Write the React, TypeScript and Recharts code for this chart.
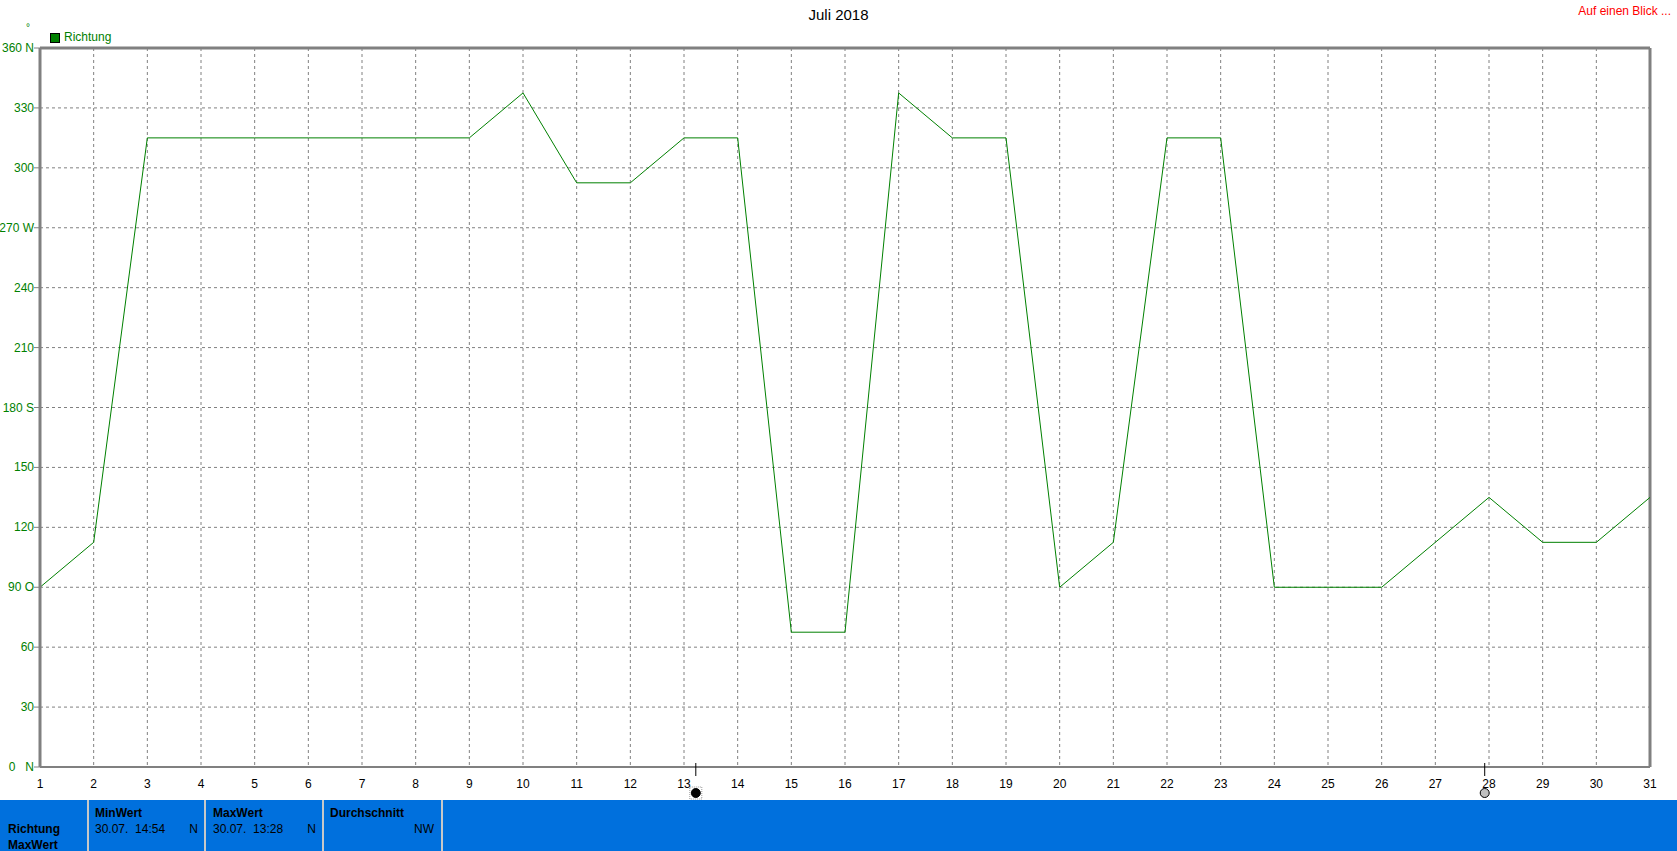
import { CartesianGrid, Line, LineChart, ReferenceDot, ReferenceLine, XAxis, YAxis } from "recharts";

// days of July 2018 and the daily wind direction (degrees)
const days = [1, 2, 3, 4, 5, 6, 7, 8, 9, 10, 11, 12, 13, 14, 15, 16, 17, 18, 19, 20, 21, 22, 23, 24, 25, 26, 27, 28, 29, 30, 31];
const richtung = [90, 112.5, 315, 315, 315, 315, 315, 315, 315, 337.5, 292.5, 292.5, 315, 315, 67.5, 67.5, 337.5, 315, 315, 90, 112.5, 315, 315, 90, 90, 90, 112.5, 135, 112.5, 112.5, 135];
const yTicks = [0, 30, 60, 90, 120, 150, 180, 210, 240, 270, 300, 330, 360];
const yLabels: Record<number, string> = { 360: "360 N", 270: "270 W", 180: "180 S", 90: "90 O", 0: "0\u00a0\u00a0\u00a0N" };
const newMoon = 13.22;
const fullMoon = 27.92;

const data = days.map((d, i) => ({ day: d, richtung: richtung[i] }));

const font = "'Liberation Sans', Arial, sans-serif";
const GREEN = "#008000";
const GRAY = "#808080";
const BLUE = "#0070DD";

function YTick({ x, y, payload }: any) {
  const v = payload.value as number;
  return (
    <g>
      <line x1={x - 6} x2={x} y1={y} y2={y} stroke={GRAY} />
      <text x={x - 6} y={y} dy={4} textAnchor="end" fill={GREEN} fontSize={12} fontFamily={font}>
        {yLabels[v] ?? String(v)}
      </text>
    </g>
  );
}

function XTick({ x, y, payload }: any) {
  return (
    <text x={x} y={y} dy={21} textAnchor="middle" fill="#000" fontSize={12} fontFamily={font}>
      {payload.value}
    </text>
  );
}

function Moon({ cx, cy, full }: any) {
  return (
    <g>
      <line x1={cx} x2={cx} y1={cy - 4} y2={cy + 9} stroke="#000" />
      <circle cx={cx} cy={cy + 26} r={4.5} fill={full ? "#c0c0c0" : "#000"} stroke="#000" />
      {!full && <rect x={cx - 6} y={cy + 20} width={12} height={12} fill="none" stroke="#999" strokeDasharray="1 1" />}
    </g>
  );
}

const cellText: React.CSSProperties = { position: "absolute", fontSize: 12, fontFamily: font, color: "#000" };

export default function App() {
  return (
    <div style={{ position: "absolute", left: 0, top: 0, width: 1677, height: 851, background: "#fff", overflow: "hidden" }}>
      <div style={{ position: "absolute", left: 0, width: 1677, top: 6, textAlign: "center", fontSize: 15, fontFamily: font }}>Juli 2018</div>
      <div style={{ position: "absolute", right: 6, top: 4, fontSize: 12, fontFamily: font, color: "#ff0000" }}>Auf einen Blick ...</div>
      <div style={{ position: "absolute", left: 26, top: 22, fontSize: 10, fontFamily: font, color: GREEN }}>°</div>
      <div style={{ position: "absolute", left: 50, top: 33, width: 8, height: 8, background: GREEN, border: "1px solid #000" }} />
      <div style={{ position: "absolute", left: 64, top: 30, fontSize: 12, fontFamily: font, color: GREEN }}>Richtung</div>

      <LineChart width={1677} height={800} data={data} margin={{ top: 48, right: 27, left: 0, bottom: 0 }}>
        <CartesianGrid stroke={GRAY} strokeDasharray="3 3" verticalValues={days} horizontalValues={yTicks} />
        <XAxis
          dataKey="day"
          type="number"
          domain={[1, 31]}
          ticks={days}
          interval={0}
          height={33}
          tickLine={false}
          tickSize={0}
          tickMargin={0}
          axisLine={{ stroke: GRAY, strokeWidth: 2 }}
          tick={<XTick />}
        />
        <YAxis
          type="number"
          domain={[0, 360]}
          ticks={yTicks}
          interval={0}
          width={40}
          tickLine={false}
          tickSize={0}
          tickMargin={0}
          axisLine={{ stroke: GRAY, strokeWidth: 3 }}
          tick={<YTick />}
        />
        <ReferenceLine y={360} stroke={GRAY} strokeWidth={3} />
        <ReferenceLine x={31} stroke={GRAY} strokeWidth={3} />
        <Line type="linear" dataKey="richtung" stroke={GREEN} strokeWidth={1} dot={false} isAnimationActive={false} />
        <ReferenceDot x={newMoon} y={0} ifOverflow="visible" shape={(p: any) => <Moon {...p} full={false} />} />
        <ReferenceDot x={fullMoon} y={0} ifOverflow="visible" shape={(p: any) => <Moon {...p} full={true} />} />
      </LineChart>

      <div style={{ position: "absolute", left: 0, top: 800, width: 1677, height: 51, background: BLUE }}>
        {[87, 204, 322, 441].map((x) => (
          <div key={x} style={{ position: "absolute", left: x, top: 0, width: 2, height: 51, background: "#c8c8c8" }} />
        ))}
        <div style={{ ...cellText, left: 8, top: 22, fontWeight: "bold" }}>Richtung</div>
        <div style={{ ...cellText, left: 8, top: 38, fontWeight: "bold" }}>MaxWert</div>
        <div style={{ ...cellText, left: 95, top: 6, fontWeight: "bold" }}>MinWert</div>
        <div style={{ ...cellText, left: 95, top: 22, whiteSpace: "pre" }}>30.07.  14:54</div>
        <div style={{ ...cellText, left: 180, width: 18, textAlign: "right", top: 22 }}>N</div>
        <div style={{ ...cellText, left: 213, top: 6, fontWeight: "bold" }}>MaxWert</div>
        <div style={{ ...cellText, left: 213, top: 22, whiteSpace: "pre" }}>30.07.  13:28</div>
        <div style={{ ...cellText, left: 298, width: 18, textAlign: "right", top: 22 }}>N</div>
        <div style={{ ...cellText, left: 330, top: 6, fontWeight: "bold" }}>Durchschnitt</div>
        <div style={{ ...cellText, left: 400, width: 34, textAlign: "right", top: 22 }}>NW</div>
      </div>
    </div>
  );
}
